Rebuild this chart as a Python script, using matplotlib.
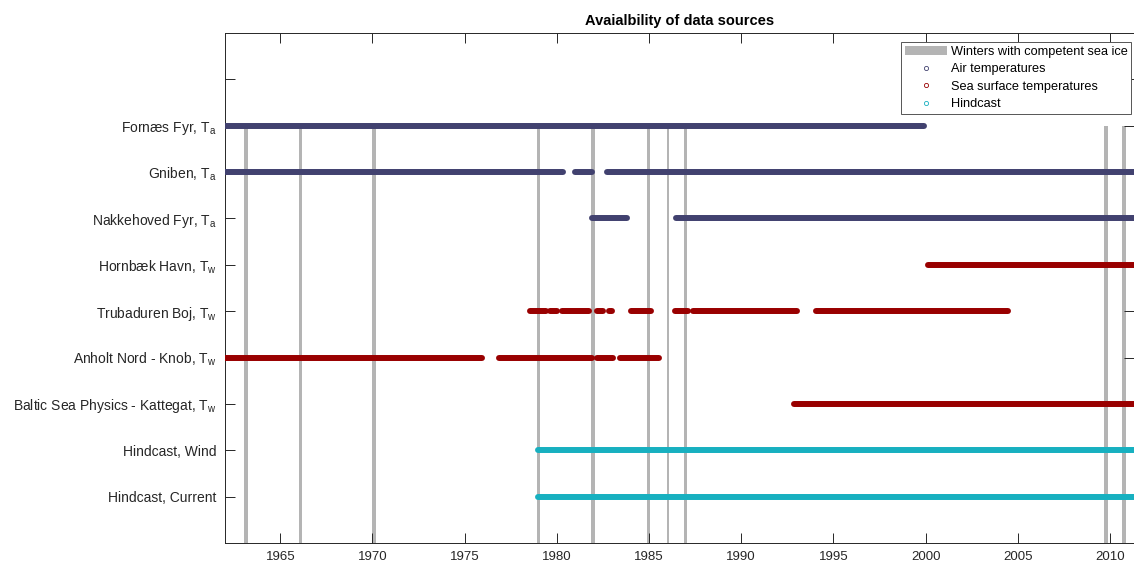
import matplotlib
matplotlib.use('Agg')
import matplotlib.pyplot as plt
from matplotlib.lines import Line2D
from matplotlib.patches import Patch

plt.rcParams['font.family'] = ['Liberation Sans', 'DejaVu Sans']
plt.rcParams['mathtext.default'] = 'regular'

# station labels, bottom row first (y = 1..9)
labels = ['Hindcast, Current', 'Hindcast, Wind',
          'Baltic Sea Physics - Kattegat, T$_w$', 'Anholt Nord - Knob, T$_w$',
          'Trubaduren Boj, T$_w$', 'Hornbæk Havn, T$_w$',
          'Nakkehoved Fyr, T$_a$', 'Gniben, T$_a$', 'Fornæs Fyr, T$_a$']

END = 2011.6

# data coverage periods (decimal years) per station
fornaes = [(1962.0, 1999.9)]
gniben = [(1962.0, 1980.35), (1981.0, 1981.9), (1982.73, END)]
nakkehoved = [(1981.92, 1983.78), (1986.46, END)]
hornbaek = [(2000.14, END)]
trubaduren = [(1978.54, 1979.39), (1979.62, 1979.98), (1980.29, 1981.74),
              (1982.15, 1982.5), (1982.85, 1983.0), (1984.0, 1985.1),
              (1986.4, 1987.12), (1987.4, 1993.0), (1994.08, 2004.48)]
anholt = [(1962.0, 1975.95), (1976.86, 1981.92), (1982.15, 1983.06),
          (1983.42, 1985.54)]
baltic = [(1992.85, END)]
hind_wind = [(1979.0, END)]
hind_current = [(1979.0, END)]

# winters with competent sea ice (start, end)
ice_winters = [(1963.05, 1963.27), (1966.02, 1966.16), (1970.0, 1970.2),
               (1978.92, 1979.08), (1981.85, 1982.05), (1984.9, 1985.04),
               (1985.95, 1986.06), (1986.88, 1987.08), (2009.7, 2009.88),
               (2010.66, 2010.86)]

air_col = '#41416f'
sst_col = '#990000'
hind_col = '#17b0c0'
ice_col = '#b4b4b4'

series = [(hind_current, 1, hind_col), (hind_wind, 2, hind_col),
          (baltic, 3, sst_col), (anholt, 4, sst_col),
          (trubaduren, 5, sst_col), (hornbaek, 6, sst_col),
          (nakkehoved, 7, air_col), (gniben, 8, air_col),
          (fornaes, 9, air_col)]

fig = plt.figure(figsize=(11.34, 5.65), dpi=100)
ax = fig.add_axes([0.1984, 0.0389, 0.8016, 0.9027])

for a, b in ice_winters:
    ax.fill_between([a, b], 0, 9, color=ice_col, lw=0, zorder=1)

for segs, y, col in series:
    for a, b in segs:
        ax.plot([a, b], [y, y], color=col, lw=4.3, solid_capstyle='round',
                zorder=3)

ax.set_xlim(1962, 2011.3)
ax.set_ylim(0, 11)
ax.set_xticks(range(1965, 2011, 5))
ax.set_yticks(range(1, 11))
ax.set_yticklabels(labels + [''])
ax.tick_params(direction='in', length=7, width=0.7, top=True, right=True,
               labelsize=10, colors='#262626', pad=6)
ax.tick_params(axis='x', labelsize=9.5)
for s in ax.spines.values():
    s.set_color('#262626')
    s.set_linewidth(0.7)

ax.set_title('Avaialbility of data sources', fontsize=10.5, fontweight='bold',
             pad=6)

handles = [Patch(facecolor=ice_col, edgecolor='none'),
           Line2D([], [], ls='none', marker='o', ms=3, mfc='none',
                  mec=air_col, mew=0.6),
           Line2D([], [], ls='none', marker='o', ms=3, mfc='none',
                  mec=sst_col, mew=0.6),
           Line2D([], [], ls='none', marker='o', ms=3, mfc='none',
                  mec=hind_col, mew=0.6)]
leg = ax.legend(handles, ['Winters with competent sea ice', 'Air temperatures',
                          'Sea surface temperatures', 'Hindcast'],
                loc='upper right', bbox_to_anchor=(0.997, 0.982),
                fontsize=9.2, fancybox=False, framealpha=1, edgecolor='#555555',
                handlelength=3.3, handleheight=0.7, labelspacing=0.42,
                borderpad=0.3, handletextpad=0.25, borderaxespad=0)
leg.get_frame().set_linewidth(0.7)

fig.savefig('out.png', dpi=100)
